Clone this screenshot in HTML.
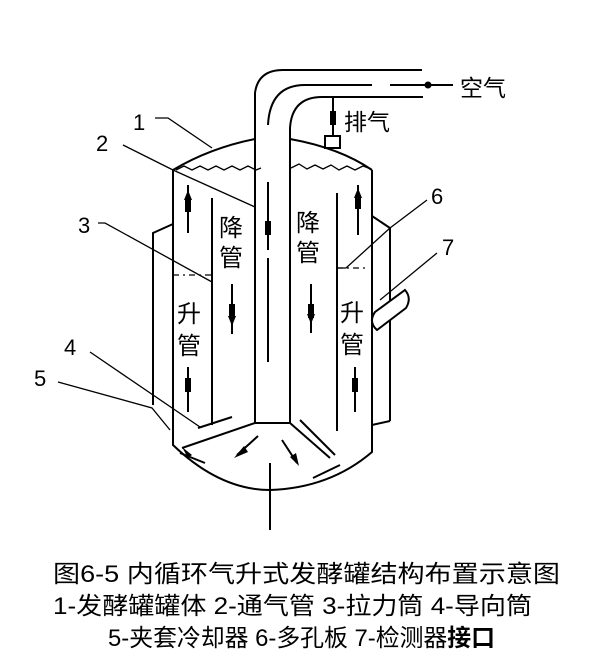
<!DOCTYPE html>
<html><head><meta charset="utf-8"><style>
html,body{margin:0;padding:0;background:#fff;}
svg{display:block}
.t{font-family:"Liberation Sans","Noto Sans CJK SC",sans-serif;fill:#000}
</style></head><body>
<svg width="603" height="665" viewBox="0 0 603 665" xmlns="http://www.w3.org/2000/svg">
<g fill="none" stroke="#000" stroke-width="2">
<path d="M255,423 V93 Q258,70 283,70 H422"/>
<path d="M290,423 V128 Q292,97 322,97 H423"/>
<path d="M268,125 Q270,85 305,85 H372 M390,85 H453"/>
<path d="M255,423 H290"/>
<path d="M268,182 V250 M268,258 V362"/>
<path d="M333,97 V137"/>
<rect x="325" y="136" width="15" height="12"/>
<path d="M173,170 Q210,148 255,139"/>
<path d="M290,139 Q340,148 372,170"/>
<path d="M176,170 l8,-4 8,4 8,-4 8,4 8,-4 8,4 8,-4 8,4 8,-4 8,4 5,-2" stroke-width="1.3"/>
<path d="M291,168 l8,-4 8,5 8,-4 8,4 8,-4 8,5 8,-4 8,4 8,-4 8,3" stroke-width="1.3"/>
<path d="M173,170 V445 Q220,490 270,490 Q330,488 372,452 V170"/>
<path d="M153,405 V233 L173,224"/>
<path d="M390,421 V228 L372,216"/>
<path d="M372,425 L390,421"/>
<path d="M212,198 V425"/>
<path d="M337,193 V431"/>
<path d="M155,118 H168 L212,148" stroke-width="1.3"/>
<path d="M123,145 L173,170 L255,207" stroke-width="1.3"/>
<path d="M98,223 H105 L212,282" stroke-width="1.3"/>
<path d="M90,352 L200,427" stroke-width="1.3"/>
<path d="M58,382 L152,408 L170,430" stroke-width="1.3"/>
<path d="M427,200 L390,228 L346,268 H336" stroke-width="1.3"/>
<path d="M437,253 L380,300" stroke-width="1.3"/>
<path d="M173,275 H212 M337,268 H368" stroke-width="1.3" stroke-dasharray="6,4,2,4"/>
<path d="M375,312 L405,290 Q412,298 406,308 L377,330 Q368,322 375,312 Z" fill="#fff"/>
<path d="M182,448 L255,423 M290,423 L330,458 M198,428 L232,417 M300,420 L335,455 M180,453 L205,463 M313,478 L340,465"/>
<path d="M270,463 V530"/>
<path d="M188,185 V233 M232,284 V334 M311,284 V333 M358,185 V235 M188,367 V412 M355,367 V412"/>
<path d="M258,436 L237,455 M282,440 L297,463"/>
</g>
<g fill="#000">
<rect x="185" y="198" width="6" height="14"/><polygon points="188,190 184,200 192,200"/>
<rect x="229" y="304" width="6" height="14"/><polygon points="232,326 228,316 236,316"/>
<rect x="265" y="221" width="6" height="14"/>
<rect x="308" y="304" width="6" height="14"/><polygon points="311,324 307,314 315,314"/>
<rect x="355" y="195" width="6" height="14"/><polygon points="358,188 354,198 362,198"/>
<rect x="185" y="378" width="6" height="14"/>
<rect x="352" y="378" width="6" height="14"/>
<rect x="330" y="111" width="6" height="14"/>
<circle cx="428" cy="85" r="3.5"/>
<polygon points="234,458 244,446 248,452"/>
<polygon points="299,466 290,457 296,453"/>
<polygon points="182,447 192,455 188,458"/>
</g>
<g class="t" font-size="24">
<text x="219" y="236">降</text><text x="219" y="266">管</text>
<text x="296" y="231">降</text><text x="296" y="261">管</text>
<text x="177" y="322">升</text><text x="177" y="354">管</text>
<text x="340" y="321">升</text><text x="340" y="353">管</text>
<text x="460" y="96" font-size="23">空气</text>
<text x="344" y="130" font-size="23">排气</text>
</g>
<g class="t" font-size="22">
<text x="133" y="130">1</text><text x="96" y="151">2</text><text x="78" y="233">3</text>
<text x="64" y="355">4</text><text x="34" y="386">5</text><text x="431" y="204">6</text><text x="442" y="255">7</text>
</g>
<g class="t" font-size="24">
<text x="53" y="582" textLength="507" lengthAdjust="spacingAndGlyphs">图6-5 内循环气升式发酵罐结构布置示意图</text>
<text x="53" y="614" textLength="479" lengthAdjust="spacingAndGlyphs">1-发酵罐罐体 2-通气管 3-拉力筒 4-导向筒</text>
<text x="108" y="646" textLength="387" lengthAdjust="spacingAndGlyphs">5-夹套冷却器 6-多孔板 7-检测器<tspan font-weight="bold">接口</tspan></text>
</g>
</svg>
</body></html>
